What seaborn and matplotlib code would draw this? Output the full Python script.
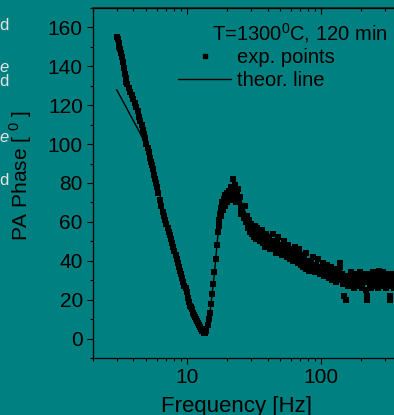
import matplotlib

matplotlib.use("Agg")
import matplotlib.pyplot as plt
import pandas as pd
import seaborn as sns
from matplotlib.lines import Line2D
from matplotlib.ticker import LogLocator, MultipleLocator, NullFormatter

sns.set_theme(style="ticks")
plt.rcParams["font.family"] = ["Liberation Sans", "DejaVu Sans"]
plt.rcParams["mathtext.fontset"] = "custom"
plt.rcParams["mathtext.rm"] = "Liberation Sans"
plt.rcParams["text.color"] = "black"
plt.rcParams["xtick.color"] = "black"
plt.rcParams["ytick.color"] = "black"

BG = "#008080"

# measured phase (exp. points)
freq_exp = [
    3.00, 3.05, 3.10, 3.15, 3.20, 3.25, 3.30, 3.35, 3.40, 3.45, 3.50, 3.55, 3.60,
    3.70, 3.80, 3.90, 4.00, 4.10, 4.20, 4.30, 4.40, 4.50, 4.60, 4.70, 4.80, 4.90,
    5.00, 5.10, 5.20, 5.30, 5.40, 5.50, 5.60, 5.70, 5.80, 5.90, 6.00,
    6.15, 6.30, 6.45, 6.60, 6.75, 6.90, 7.05, 7.20, 7.35, 7.50, 7.65, 7.80, 7.95,
    8.10, 8.25, 8.40, 8.55, 8.70, 8.85, 9.00,
    9.2, 9.4, 9.6, 9.8, 10.0, 10.2, 10.4, 10.6, 10.8, 11.0, 11.2, 11.4, 11.6, 11.8,
    12.0, 12.2, 12.4, 12.6, 12.8, 13.0, 13.2, 13.4, 13.6, 13.8, 14.0,
    14.3, 14.6, 14.9, 15.2, 15.5, 15.8, 16.1, 16.4, 16.7, 17.0, 17.3, 17.6, 17.9,
    18.2, 18.5, 18.8, 19.1, 19.4, 19.7, 20.0, 20.3, 20.6, 21.0, 21.4, 21.8, 22.2,
    22.6, 23.0, 23.5, 24.0, 24.5, 25.0, 25.5,
    17.5, 18.0, 18.7, 19.3, 20.1, 21.2, 22.4, 23.2, 24.3, 25.2,
    26.0, 26.5, 27.0, 27.5, 28.0, 28.5, 29.0, 29.5, 30.0, 30.5, 31.0, 31.5, 32.0,
    32.5, 33.0, 33.5, 34.0, 34.5, 35.0, 35.5, 36.0, 36.5, 37.0, 37.5, 38.0, 38.5,
    39.0, 39.5, 40.0,
    41, 42, 43, 44, 45, 46, 47, 48, 49, 50, 51, 52, 53, 54, 55, 56, 57, 58, 59, 60,
    61, 62, 63, 64, 65, 66, 67, 68, 69, 70, 71, 72, 73, 74, 75, 76, 77, 78, 79, 80,
    82, 84, 86, 88, 90, 92, 94, 96, 98, 100, 102, 104, 106, 108, 110, 112, 114, 116,
    118, 120, 122, 124, 126, 128, 130, 132, 134, 136, 138, 140, 142, 144, 146, 148,
    150,
    153, 156, 159, 162, 165, 168, 171, 174, 177, 180, 183, 186, 189, 192, 195, 198,
    201, 204, 207, 210, 213, 216, 219, 222, 225, 228, 231, 234, 237, 240, 243, 246,
    249,
    253, 257, 261, 265, 269, 273, 277, 281, 285, 289, 293, 297, 301, 305, 309, 313,
    317, 321, 325, 329, 333, 337, 341, 345, 349, 353, 357, 361, 365, 369,
]
phase_exp = [
    155, 154, 152, 150, 149, 147, 145, 142, 139, 136, 134, 132, 131,
    129, 127, 125, 123, 121, 119, 117, 114, 112, 110, 107, 105, 103,
    100, 98, 96, 93, 91, 89, 87, 84, 82, 80, 78,
    75, 71, 68, 65, 63, 61, 59, 57, 55, 53, 51, 49, 47,
    45, 43, 41, 39, 37, 35, 33,
    31, 29, 27, 26, 24, 21, 19, 17, 16, 15, 13, 12, 11, 10,
    9, 8, 7, 6, 5, 4, 4, 3, 3, 4, 5,
    7, 10, 13, 18, 23, 28, 34, 41, 48, 55, 61, 64, 67,
    70, 69, 72, 71, 74, 73, 75, 72, 76, 74, 78, 75, 82,
    77, 79, 74, 77, 70, 73, 67,
    58, 63, 66, 68, 70, 71, 73, 70, 72, 64,
    66, 62, 68, 60, 63, 57, 61, 55, 59, 54, 57, 52, 58,
    55, 51, 57, 53, 56, 50, 54, 52, 56, 49, 53, 51, 47,
    54, 50, 48,
    52, 46, 50, 54, 47, 44, 49, 52, 45, 48, 43, 47, 50, 44, 46, 42, 48, 45, 41, 46,
    43, 40, 45, 47, 41, 44, 39, 43, 46, 40, 38, 43, 41, 37, 42, 39, 44, 36, 40, 38,
    35, 40, 37, 42, 34, 38, 36, 41, 33, 37, 35, 39, 32, 36, 34, 38, 31, 35,
    33, 37, 30, 34, 32, 36, 29, 33, 31, 35, 39, 37, 30, 33, 28, 32,
    22,
    20, 30, 27, 32, 29, 34, 28, 31, 26, 33, 29, 32, 27, 30, 34, 28,
    31, 26, 33, 29, 31, 25, 20, 22, 30, 33, 28, 31, 26, 32, 29, 34,
    27,
    31, 28, 33, 26, 30, 35, 29, 32, 27, 31, 34, 28, 30, 26, 32, 29,
    33, 27, 22, 20, 29, 31, 27, 33, 30, 26, 32, 28, 31, 29,
]

# model curve (theor. line)
freq_theor = [3.0, 3.5, 4.0, 4.5, 5.0, 5.5, 6.0, 7.0, 8.0, 9.0, 10.0, 11.0, 12.0,
              13.0, 13.5, 14.0, 15.0, 16.0, 17.0, 18.0, 19.0, 20.0, 22.0, 24.0,
              26.0, 28.0, 30.0, 35.0, 40.0, 50.0, 60.0, 80.0, 100.0, 150.0,
              200.0, 300.0, 400.0]
phase_theor = [128, 119.5, 112, 105.5, 99, 90, 79, 62, 47, 34, 24, 15, 9,
               4, 3.5, 5, 15, 32, 52, 65, 71, 74, 76, 74,
               69, 63, 58, 52, 48, 44, 41, 37, 35, 32,
               30, 29, 28]

xticks = [10, 100]
xtick_labels = ["10", "100"]
yticks = [0, 20, 40, 60, 80, 100, 120, 140, 160]

exp_df = pd.DataFrame({"freq": freq_exp, "phase": phase_exp})
theor_df = pd.DataFrame({"freq": freq_theor, "phase": phase_theor})

fig = plt.figure(figsize=(3.94, 4.15), dpi=100, facecolor=BG)
ax = fig.add_axes([93 / 394, 57 / 415, 362 / 394, 350 / 415])
ax.set_facecolor(BG)
ax.set_xscale("log")

sns.lineplot(data=theor_df, x="freq", y="phase", color="black", lw=1,
             sort=False, ax=ax)
sns.scatterplot(data=exp_df, x="freq", y="phase", marker="s", s=17,
                color="black", edgecolor="black", linewidth=0, ax=ax, zorder=3)

ax.set_xlim(2, 1000)
ax.set_ylim(-10, 170)
ax.set_xlabel("")
ax.set_ylabel("")

ax.set_xticks(xticks)
ax.set_xticklabels(xtick_labels)
ax.xaxis.set_minor_locator(LogLocator(base=10, subs=[2, 3, 4, 5, 6, 7, 8, 9]))
ax.xaxis.set_minor_formatter(NullFormatter())
ax.set_yticks(yticks)
ax.yaxis.set_minor_locator(MultipleLocator(10))

ax.tick_params(which="both", direction="out", colors="black", labelsize=15,
               width=0.8)
ax.tick_params(which="major", length=4.3)
ax.tick_params(which="minor", length=2.4)
ax.tick_params(axis="y", pad=3)
ax.tick_params(axis="x", pad=3)
for sp in ax.spines.values():
    sp.set_color("black")
    sp.set_linewidth(0.9)

top = ax.secondary_xaxis("top")
top.set_xticks(xticks)
top.xaxis.set_minor_locator(LogLocator(base=10, subs=[2, 3, 4, 5, 6, 7, 8, 9]))
top.tick_params(which="both", direction="in", labeltop=False, width=0.8,
                colors="black")
top.tick_params(which="major", length=4)
top.tick_params(which="minor", length=2)

handles = [
    Line2D([], [], marker="s", ls="none", color="black", ms=3),
    Line2D([], [], color="black", lw=1),
]
ax.legend(handles=handles, labels=["exp. points", "theor. line"],
          loc="upper left", bbox_to_anchor=(178 / 394, 1 - 48 / 415),
          bbox_transform=fig.transFigure, frameon=False, fontsize=14.5,
          handlelength=2.65, handletextpad=0.3, labelspacing=0.2,
          borderpad=0, borderaxespad=0, labelcolor="black")
fig.text(212 / 394, 1 - 33 / 415, r"T=1300$^\mathrm{0}$C, 120 min",
         ha="left", va="center", fontsize=14.5, color="black")

fig.text(21 / 394, 1 - 175 / 415, r"PA Phase [ $^\mathrm{0}$ ]", rotation=90,
         ha="center", va="center", fontsize=15, color="black")
fig.text(236.5 / 394, 3 / 415, "Frequency [Hz]", ha="center", va="baseline",
         fontsize=16, color="black")

# cut-off text from the neighbouring panel
for ypix, ch, style in [(25, "d", "normal"), (68, "e", "italic"),
                        (82, "d", "normal"), (137, "e", "italic"),
                        (180, "d", "normal")]:
    fig.text(9 / 394, 1 - ypix / 415, ch, ha="right", va="center",
             fontsize=12, color="#e4e4e4", style=style)

fig.savefig("out.png", dpi=100, facecolor=BG)
